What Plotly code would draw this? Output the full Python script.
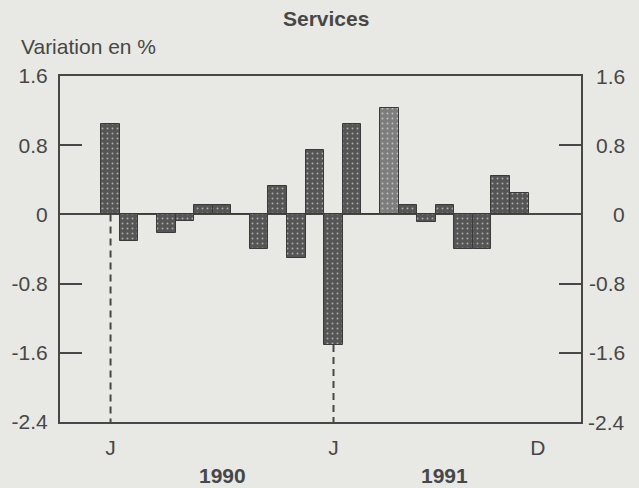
import plotly.graph_objects as go

# ---- data ----
month_labels = ["J", "F", "M", "A", "M", "J", "J", "A", "S", "O", "N", "D",
                "J", "F", "M", "A", "M", "J", "J", "A", "S", "O", "N", "D"]
years = ["1990", "1991"]
values = [1.04, -0.31, 0.0, -0.21, -0.08, 0.11, 0.11, 0.0, -0.40, 0.33, -0.50, 0.74,
          -1.51, 1.04, 0.0, 1.23, 0.11, -0.09, 0.11, -0.40, -0.40, 0.44, 0.25, None]
y_ticks = [-2.4, -1.6, -0.8, 0, 0.8, 1.6]
y_tick_text = ["-2.4", "-1.6", "-0.8", "0", "0.8", "1.6"]
x_tick_idx = [0, 12, 23]
marked_months = [0, 12]          # dashed reference lines (J 1990, J 1991)
year_label_pos = [6, 18]
title = "Services"
y_title = "Variation en %"

# ---- style ----
BG = "#e8e9e4"
INK = "#474747"
FONT = "Liberation Sans, Arial, sans-serif"
FS = 21
bar_color = "#555555"
bar_light = "#7d7d7d"
y_min, y_max = y_ticks[0], y_ticks[-1]

x = list(range(len(values)))
colors = [bar_light if i == 15 else bar_color for i in x]

fig = go.Figure()
fig.add_trace(go.Bar(
    x=x, y=values, width=1.0,
    marker=dict(color=colors,
                line=dict(color="#3a3a3a", width=1),
                pattern=dict(shape=".", fgcolor="#b5b5b5", size=5, solidity=0.12)),
    hoverinfo="skip", showlegend=False,
))

for m in marked_months:
    start = min(values[m], 0)
    fig.add_trace(go.Scatter(
        x=[m, m], y=[start, y_min], mode="lines",
        line=dict(color=INK, width=2, dash="7px,5px"),
        hoverinfo="skip", showlegend=False,
    ))

PH = 346.0  # plot height in px
annotations = []
for t, txt in zip(y_ticks, y_tick_text):
    annotations.append(dict(x=1.088, xref="paper", y=t, yref="y", text=txt,
                            showarrow=False, xanchor="right", yanchor="middle",
                            font=dict(family=FONT, size=FS, color=INK)))
for pos, yr in zip(year_label_pos, years):
    annotations.append(dict(x=pos, xref="x", y=(422 - 475) / PH, yref="paper",
                            text="<b>%s</b>" % yr,
                            showarrow=False, xanchor="center", yanchor="middle",
                            font=dict(family=FONT, size=FS, color=INK)))
annotations.append(dict(x=-0.078, xref="paper", y=(422 - 46.7) / PH, yref="paper", text=y_title,
                        showarrow=False, xanchor="left", yanchor="middle",
                        font=dict(family=FONT, size=FS, color=INK)))
annotations.append(dict(x=0.511, xref="paper", y=(422 - 18.5) / PH, yref="paper",
                        text="<b>%s</b>" % title,
                        showarrow=False, xanchor="center", yanchor="middle",
                        font=dict(family=FONT, size=FS, color=INK)))

fig.update_layout(
    width=639, height=488,
    margin=dict(l=58, r=58, t=76, b=66),
    paper_bgcolor=BG, plot_bgcolor=BG,
    bargap=0,
    font=dict(family=FONT, size=FS, color=INK),
    annotations=annotations,
    xaxis=dict(range=[-2.72, 25.32], tickmode="array", tickvals=x_tick_idx,
               ticktext=[month_labels[i] for i in x_tick_idx],
               showline=True, mirror=True, linecolor=INK, linewidth=2,
               ticks="", showgrid=False, zeroline=False,
               tickfont=dict(family=FONT, size=FS, color=INK), ticklabelstandoff=6),
    yaxis=dict(range=[y_min, y_max], tickmode="array", tickvals=y_ticks, ticktext=y_tick_text,
               showline=True, mirror="ticks", linecolor=INK, linewidth=2,
               ticks="inside", ticklen=22, tickwidth=2, tickcolor=INK,
               showgrid=False, zeroline=True, zerolinecolor=INK, zerolinewidth=2,
               tickfont=dict(family=FONT, size=FS, color=INK), ticklabelstandoff=6),
)

fig.write_html("out.html",
               config={"displayModeBar": False},
               post_script="document.body.style.margin='0';document.body.style.background='%s';" % BG)
